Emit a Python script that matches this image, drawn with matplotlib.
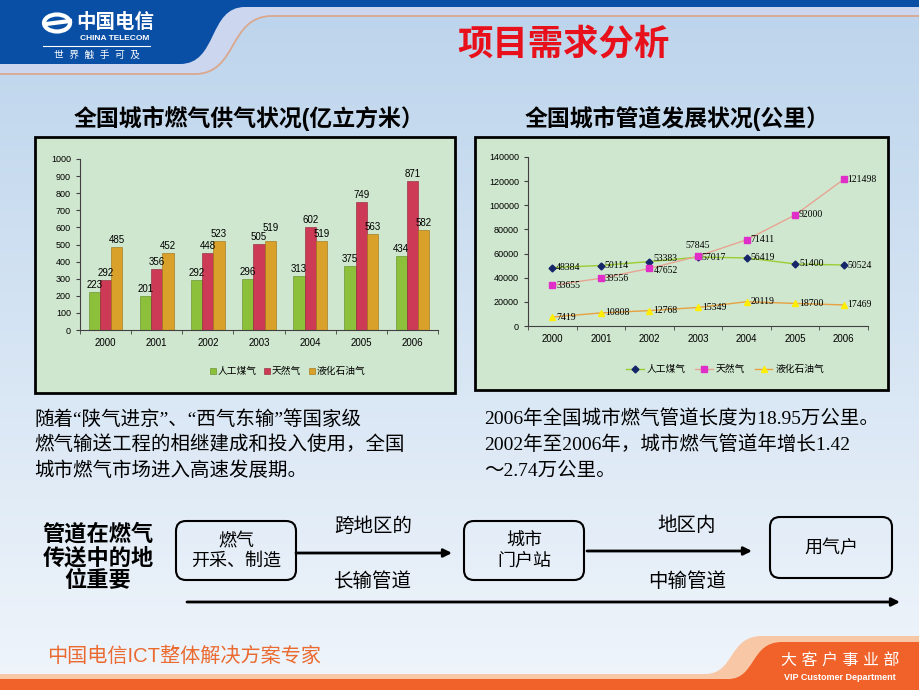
import numpy as np
import matplotlib
matplotlib.use('Agg')
import matplotlib.pyplot as plt
import matplotlib.patches as mpatches
from matplotlib.path import Path

plt.rcParams['font.family'] = ['Liberation Sans', 'Noto Sans CJK SC']

# 数据
years = ['2000', '2001', '2002', '2003', '2004', '2005', '2006']
supply_names = ['人工煤气', '天然气', '液化石油气']
supply_coal = [223, 201, 292, 296, 313, 375, 434]
supply_natural = [292, 356, 448, 505, 602, 749, 871]
supply_lpg = [485, 452, 523, 519, 519, 563, 582]

pipe_coal = [48384, 50114, 53383, 57017, 56419, 51400, 50524]
pipe_natural = [33655, 39556, 47652, 57845, 71411, 92000, 121498]
pipe_lpg = [7419, 10808, 12768, 15349, 20119, 18700, 17469]

W, H = 920, 690
fig = plt.figure(figsize=(9.2, 6.9), dpi=100)

def fr(x0, y0, x1, y1):
    return [x0 / W, 1 - y1 / H, (x1 - x0) / W, (y1 - y0) / H]

bg = fig.add_axes([0, 0, 1, 1])
bg.set_xlim(0, W)
bg.set_ylim(H, 0)
bg.axis('off')

# 背景渐变
c1 = np.array(matplotlib.colors.to_rgb('#bcd4ec'))
c2 = np.array(matplotlib.colors.to_rgb('#f0f5fb'))
t = np.linspace(0, 1, 256)[:, None]
grad = (c1 * (1 - t) + c2 * t)[:, None, :]
bg.imshow(grad, extent=[0, W, H, 0], aspect='auto', zorder=0)

# 页眉
M, L, C, Z = Path.MOVETO, Path.LINETO, Path.CURVE4, Path.CLOSEPOLY
lav = Path([(0, 0), (W, 0), (W, 16), (272, 16), (228, 16), (238, 73), (195, 73), (0, 73), (0, 0)],
           [M, L, L, L, C, C, C, L, Z])
bg.add_patch(mpatches.PathPatch(lav, facecolor='#cdd6ef', edgecolor='none', zorder=1))
tan = Path([(0, 74), (195, 74), (238, 74), (228, 16), (272, 16), (W, 16)], [M, L, C, C, C, L])
bg.add_patch(mpatches.PathPatch(tan, facecolor='none', edgecolor='#d9a88e', lw=1.3, zorder=2))
blue = Path([(0, 0), (W, 0), (W, 7), (245, 7), (208, 7), (218, 64), (180, 64), (0, 64), (0, 0)],
            [M, L, L, L, C, C, C, L, Z])
bg.add_patch(mpatches.PathPatch(blue, facecolor='#0a4fa6', edgecolor='none', zorder=2))

# logo
bg.add_patch(mpatches.Ellipse((57, 23), 26, 17, fill=False, edgecolor='white', lw=3, zorder=3))
bg.plot([46, 70], [24, 21], color='white', lw=3, zorder=3)
bg.text(115, 22, '中国电信', color='white', fontsize=14, fontweight='bold', ha='center', va='center', zorder=3)
bg.text(115, 38, 'CHINA TELECOM', color='white', fontsize=6, fontweight='bold', ha='center', va='center', zorder=3)
bg.plot([43, 150], [46, 46], color='white', lw=0.8, zorder=3)
bg.text(97, 55, '世  界  触  手  可  及', color='white', fontsize=7, ha='center', va='center', zorder=3)

bg.text(563, 45, '项目需求分析', color='#e8101a', fontsize=25.5, fontweight='bold',
        ha='center', va='center', zorder=3)

# 页脚
peach = Path([(0, 674), (705, 674), (735, 674), (728, 636), (762, 636), (W, 636), (W, H), (0, H), (0, 674)],
             [M, L, C, C, C, L, L, L, Z])
bg.add_patch(mpatches.PathPatch(peach, facecolor='#f8c8a6', edgecolor='none', zorder=1))
orange = Path([(0, 679), (728, 679), (756, 679), (750, 642), (782, 642), (W, 642), (W, H), (0, H), (0, 679)],
              [M, L, C, C, C, L, L, L, Z])
bg.add_patch(mpatches.PathPatch(orange, facecolor='#f0622a', edgecolor='none', zorder=2))
bg.text(47, 656, '中国电信ICT整体解决方案专家', color='#ea6a30', fontsize=14.5, ha='left', va='center', zorder=3)
bg.text(840, 661, '大 客 户 事 业 部', color='white', fontsize=11.5, ha='center', va='center', zorder=3)
bg.text(840, 677, 'VIP Customer Department', color='white', fontsize=6.5, fontweight='bold',
        ha='center', va='center', zorder=3)

# 图表标题
bg.text(249, 118, '全国城市燃气供气状况(亿立方米）', fontsize=16.5, fontweight='bold', ha='center', va='center', zorder=3)
bg.text(677, 118, '全国城市管道发展状况(公里）', fontsize=16.5, fontweight='bold', ha='center', va='center', zorder=3)

# 图表面板
bg.add_patch(mpatches.Rectangle((35, 137), 420, 256, facecolor='#cfe7cf', edgecolor='black', lw=2, zorder=2))
bg.add_patch(mpatches.Rectangle((475, 137), 413, 253, facecolor='#cfe7cf', edgecolor='black', lw=2, zorder=2))

def style_axes(ax, ymax, ystep):
    ax.set_facecolor('none')
    ax.set_xlim(-0.5, 6.5)
    ax.set_ylim(0, ymax)
    ax.set_yticks(np.arange(0, ymax + 1, ystep))
    ax.set_xticks(range(7))
    ax.set_xticklabels(years)
    ax.set_xticks(np.arange(-0.5, 7, 1), minor=True)
    ax.tick_params(axis='x', which='major', length=0, labelsize=7, pad=6)
    ax.tick_params(axis='x', which='minor', length=3, color='#404040')
    ax.tick_params(axis='y', length=3, labelsize=6.5, color='#404040')
    for s in ['top', 'right']:
        ax.spines[s].set_visible(False)
    for s in ['left', 'bottom']:
        ax.spines[s].set_color('#404040')
        ax.spines[s].set_linewidth(0.8)

# 柱状图
ax1 = fig.add_axes(fr(80, 159, 438, 330), zorder=5)
style_axes(ax1, 1000, 100)
x = np.arange(7)
bw = 0.22
bar_colors = ['#8cbf3a', '#cc3a55', '#d9a02a']
edge_colors = ['#5e8a20', '#8e1f35', '#9a6e10']
for k, vals in enumerate([supply_coal, supply_natural, supply_lpg]):
    xs = x + (k - 1) * bw
    ax1.bar(xs, vals, width=bw, color=bar_colors[k], edgecolor=edge_colors[k], linewidth=0.4,
            label=supply_names[k])
    for i, (xi, v) in enumerate(zip(xs, vals)):
        dy = 50 if (k == 2 and i == 3) else 12
        ax1.text(xi, v + dy, str(v), ha='center', va='bottom', fontsize=7)
ax1.legend(loc='center', bbox_to_anchor=(0.58, -0.24), ncol=3, frameon=False,
           fontsize=7, handlelength=0.6, handleheight=0.6, handletextpad=0.2, columnspacing=0.8)

# 折线图
ax2 = fig.add_axes(fr(528, 157, 868, 326), zorder=5)
style_axes(ax2, 140000, 20000)
ax2.plot(x, pipe_coal, color='#9acd32', lw=1, marker='D', markersize=3.5,
         markerfacecolor='#15256a', markeredgecolor='#15256a', label='人工煤气')
ax2.plot(x, pipe_natural, color='#e8a493', lw=1, marker='s', markersize=5,
         markerfacecolor='#e02ec8', markeredgecolor='#e02ec8', label='天然气')
ax2.plot(x, pipe_lpg, color='#e8a040', lw=1, marker='^', markersize=4,
         markerfacecolor='#ffee00', markeredgecolor='#ffee00', label='液化石油气')
nudge = {(0, 2): 2500, (1, 2): -2000}
for s_idx, series in enumerate([pipe_coal, pipe_natural, pipe_lpg]):
    for i, v in enumerate(series):
        if s_idx == 1 and i == 3:
            ax2.text(i, v + 9000, str(v), ha='center', va='center', fontsize=7,
                     family=['Liberation Serif'])
        else:
            ax2.text(i + 0.08, v + nudge.get((s_idx, i), 0), str(v), ha='left', va='center',
                     fontsize=7, family=['Liberation Serif'])
ax2.legend(loc='center', bbox_to_anchor=(0.58, -0.254), ncol=3, frameon=False,
           fontsize=7, handlelength=1.8, handletextpad=0.3, columnspacing=1.0)

# 说明文字
body = ['Liberation Serif', 'Noto Sans CJK SC']
left_lines = ['随着“陕气进京”、“西气东输”等国家级',
              '燃气输送工程的相继建成和投入使用，全国',
              '城市燃气市场进入高速发展期。']
right_lines = ['2006年全国城市燃气管道长度为18.95万公里。',
               '2002年至2006年，城市燃气管道年增长1.42',
               '～2.74万公里。']
for i, s in enumerate(left_lines):
    bg.text(34, 419 + 26 * i, s, fontsize=14, family=body, ha='left', va='center', zorder=3)
for i, s in enumerate(right_lines):
    bg.text(484, 419 + 26 * i, s, fontsize=14, family=body, ha='left', va='center', zorder=3)

# 流程图
bg.text(98, 558, '管道在燃气\n传送中的地\n位重要', fontsize=16, fontweight='bold', ha='center', va='center',
        linespacing=1.1, zorder=3)
boxes = [(176, 521, 296, 580, '燃气\n开采、制造'),
         (464, 521, 584, 580, '城市\n门户站'),
         (770, 517, 892, 578, '用气户')]
for x0, y0, x1, y1, s in boxes:
    bg.add_patch(mpatches.FancyBboxPatch((x0, y0), x1 - x0, y1 - y0,
                                         boxstyle='round,pad=0,rounding_size=10',
                                         facecolor='none', edgecolor='black', lw=1.5, zorder=3))
    bg.text((x0 + x1) / 2, (y0 + y1) / 2 + 1, s, fontsize=13, ha='center', va='center',
            linespacing=1.2, zorder=3)

arrow = dict(arrowstyle='-|>', color='black', lw=2, mutation_scale=12, shrinkA=0, shrinkB=0)
bg.annotate('', xy=(452, 553), xytext=(296, 553), arrowprops=arrow, zorder=3)
bg.annotate('', xy=(752, 551), xytext=(587, 551), arrowprops=arrow, zorder=3)
bg.annotate('', xy=(900, 602), xytext=(187, 602), arrowprops=arrow, zorder=3)

bg.text(373, 527, '跨地区的', fontsize=14, ha='center', va='center', zorder=3)
bg.text(373, 582, '长输管道', fontsize=14, ha='center', va='center', zorder=3)
bg.text(687, 526, '地区内', fontsize=14, ha='center', va='center', zorder=3)
bg.text(687, 582, '中输管道', fontsize=14, ha='center', va='center', zorder=3)

fig.savefig('out.png', dpi=100)
